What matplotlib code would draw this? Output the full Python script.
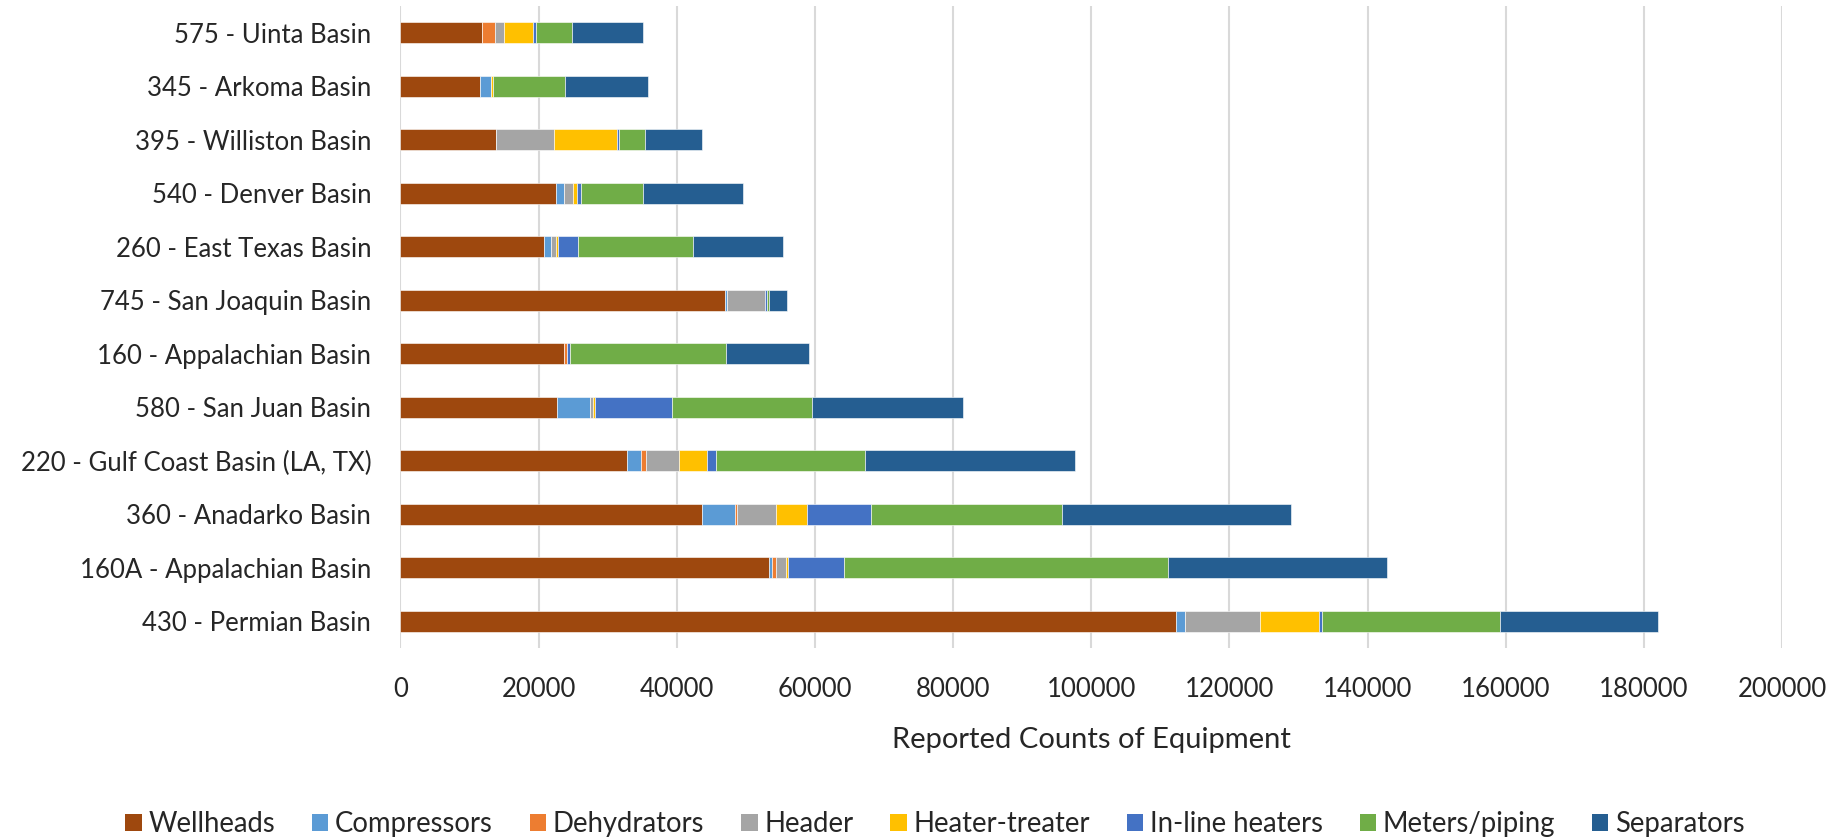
import matplotlib
matplotlib.use("Agg")
import matplotlib.pyplot as plt
from matplotlib.patches import Patch
import numpy as np

plt.rcParams["font.family"] = ["Lato", "DejaVu Sans"]

# Basins, listed from the bottom bar to the top bar
basins = [
    "430 - Permian Basin",
    "160A - Appalachian Basin",
    "360 - Anadarko Basin",
    "220 - Gulf Coast Basin (LA, TX)",
    "580 - San Juan Basin",
    "160 - Appalachian Basin",
    "745 - San Joaquin Basin",
    "260 - East Texas Basin",
    "540 - Denver Basin",
    "395 - Williston Basin",
    "345 - Arkoma Basin",
    "575 - Uinta Basin",
]

equipment = ["Wellheads", "Compressors", "Dehydrators", "Header",
             "Heater-treater", "In-line heaters", "Meters/piping", "Separators"]

wellheads      = [112300, 53300, 43700, 32800, 22700, 23600, 47000, 20800, 22450, 13850, 11550, 11750]
compressors    = [1300,   500,   4700,  2000,  4800,  0,     200,   950,   1150,  0,     1600,  0]
dehydrators    = [0,      550,   300,   700,   0,     550,   0,     0,     0,     0,     0,     1950]
header         = [10800,  1400,  5600,  4800,  400,   0,     5500,  700,   1350,  8300,  0,     1350]
heater_treater = [8500,   400,   4600,  4000,  300,   0,     0,     400,   650,   9200,  300,   4150]
inline_heaters = [500,    8100,  9200,  1400,  11100, 350,   300,   2850,  500,   300,   0,     450]
meters_piping  = [25800,  46800, 27600, 21500, 20300, 22650, 400,   16600, 9000,  3700,  10350, 5150]
separators     = [22900,  31800, 33200, 30500, 21800, 12000, 2600,  13100, 14550, 8300,  12050, 10350]

series = [wellheads, compressors, dehydrators, header,
          heater_treater, inline_heaters, meters_piping, separators]
colors = ["#9E480E", "#5B9BD5", "#ED7D31", "#A5A5A5",
          "#FFC000", "#4472C4", "#70AD47", "#255E91"]

x_ticks = [0, 20000, 40000, 60000, 80000, 100000, 120000, 140000, 160000, 180000, 200000]

W, H = 1833, 838
fig = plt.figure(figsize=(W / 100, H / 100), dpi=100)
ax = fig.add_axes([400.5 / W, 1 - 648 / H, (1782 - 400.5) / W, (648 - 6) / H])

y = np.arange(len(basins))
left = np.zeros(len(basins))
for name, vals, col in zip(equipment, series, colors):
    vals = np.array(vals, dtype=float)
    ax.barh(y, vals, left=left, height=0.40, color=col, label=name,
            edgecolor="white", linewidth=0.4, zorder=3)
    left += vals

ax.set_ylim(-0.5, len(basins) - 0.5)
ax.set_xlim(0, 200000)
ax.set_xticks(x_ticks)
ax.set_xticklabels([str(t) for t in x_ticks])
ax.set_yticks(y)
ax.set_yticklabels(basins)

ax.grid(axis="x", color="#D9D9D9", linewidth=1.5, zorder=0)
ax.grid(axis="y", visible=False)
for s in ax.spines.values():
    s.set_visible(False)
ax.tick_params(axis="both", length=0, labelsize=18.5, colors="#262626")
ax.tick_params(axis="y", pad=21)
ax.tick_params(axis="x", pad=21)

ax.set_xlabel("Reported Counts of Equipment", fontsize=21, color="#262626", labelpad=18)

handles = [Patch(facecolor=c, edgecolor="none") for c in colors]
fig.legend(handles, equipment, loc="center", bbox_to_anchor=(935 / W, 1 - 824 / H),
           ncol=8, frameon=False, fontsize=19.8, handlelength=0.6, handleheight=0.6,
           handletextpad=0.25, columnspacing=1.33, labelcolor="#262626")

fig.savefig("out.png", dpi=100, facecolor="white")
